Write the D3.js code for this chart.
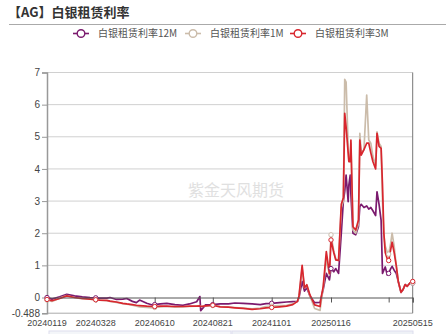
<!DOCTYPE html>
<html>
<head>
<meta charset="utf-8">
<script src="https://cdn.jsdelivr.net/npm/d3@7"></script>
<style>
  body { margin: 0; background: #fff; }
  svg { display: block; font-family: "Noto Sans CJK SC", "Noto Sans", sans-serif; }
</style>
</head>
<body>
<svg id="chart" width="446" height="334"></svg>
<script>
// data
const dates = [
  "20240119","20240126","20240206","20240216","20240227","20240309","20240320","20240328",
  "20240402","20240411","20240415","20240423","20240501","20240506","20240513","20240518",
  "20240522","20240531","20240608","20240610","20240617","20240625","20240705","20240715",
  "20240723","20240801","20240805","20240806","20240812","20240821","20240830","20240909",
  "20240917","20240927","20241008","20241018","20241025","20241101","20241111","20241120",
  "20241128","20241204","20241206","20241210","20241213","20241216","20241220","20241226",
  "20250102","20250103","20250106","20250110","20250114","20250116","20250120","20250123",
  "20250127","20250131","20250203","20250205","20250207","20250210","20250211","20250213",
  "20250214","20250217","20250221","20250225","20250227","20250301","20250305","20250309",
  "20250312","20250315","20250318","20250322","20250324","20250327","20250330","20250401",
  "20250403","20250405","20250408","20250410","20250413","20250415","20250418","20250421",
  "20250424","20250428","20250501","20250504","20250507","20250511","20250515"
];
const rate12M = [
  0.00,-0.05,0.02,0.10,0.05,0.02,0.00,-0.01,
  -0.02,-0.02,0.00,-0.06,-0.05,-0.03,-0.12,-0.16,
  -0.08,-0.18,-0.24,-0.22,-0.20,-0.18,-0.22,-0.24,
  -0.20,-0.13,0.03,-0.41,-0.23,-0.22,-0.20,-0.20,
  -0.17,-0.18,-0.20,-0.22,-0.19,-0.18,-0.16,-0.14,
  -0.13,-0.12,0.00,0.50,0.20,0.30,0.05,-0.16,
  -0.15,-0.05,0.25,0.75,0.55,0.90,0.80,0.90,
  0.75,2.00,3.00,3.30,3.81,2.98,3.50,3.81,
  3.20,2.00,1.95,2.20,2.83,2.90,2.80,2.85,
  2.75,2.80,2.70,2.55,3.29,2.90,2.40,0.75,
  0.85,0.95,0.70,0.75,0.90,0.97,0.85,0.75,
  0.50,0.16,0.25,0.40,0.35,0.45,0.45
];
const rate1M = [
  -0.08,-0.12,-0.02,0.06,0.00,-0.04,-0.05,-0.07,
  -0.08,-0.10,-0.12,-0.15,-0.19,-0.21,-0.24,-0.27,
  -0.29,-0.31,-0.32,-0.31,-0.29,-0.28,-0.30,-0.29,
  -0.28,-0.27,-0.25,-0.28,-0.27,-0.25,-0.28,-0.30,
  -0.31,-0.33,-0.35,-0.33,-0.28,-0.27,-0.25,-0.24,
  -0.20,-0.12,0.02,0.90,0.30,0.38,0.05,-0.34,
  -0.40,-0.20,0.30,1.20,0.70,1.95,1.45,1.20,
  1.15,2.80,3.00,6.79,6.70,4.70,4.23,4.30,
  4.80,2.10,2.00,2.30,5.11,4.50,4.60,6.30,
  4.90,4.80,4.40,4.10,5.15,4.80,4.70,3.00,
  1.95,1.60,1.40,1.35,1.70,2.00,1.60,1.00,
  0.50,0.16,0.25,0.40,0.35,0.45,0.45
];
const rate3M = [
  -0.06,-0.10,-0.03,0.05,0.00,-0.03,-0.05,-0.07,
  -0.08,-0.09,-0.11,-0.14,-0.18,-0.20,-0.22,-0.24,
  -0.25,-0.27,-0.28,-0.28,-0.27,-0.27,-0.28,-0.28,
  -0.27,-0.27,-0.26,-0.28,-0.26,-0.24,-0.29,-0.30,
  -0.32,-0.34,-0.37,-0.35,-0.32,-0.31,-0.29,-0.27,
  -0.22,-0.12,0.05,1.00,0.30,0.40,0.08,-0.23,
  -0.28,-0.05,0.34,1.43,0.74,1.79,1.40,1.17,
  1.15,2.90,3.10,5.73,5.30,4.50,4.23,4.23,
  4.90,2.20,2.10,2.41,4.90,4.43,4.60,4.80,
  4.80,4.50,4.23,4.00,5.11,4.70,4.64,3.50,
  2.00,1.40,1.20,1.15,1.50,1.72,1.40,1.00,
  0.50,0.16,0.25,0.40,0.35,0.45,0.50
];
const seriesNames = ["白银租赁利率12M", "白银租赁利率1M", "白银租赁利率3M"];
const seriesColors = ["#7b1a6e", "#cbbcaa", "#d8262e"];
const labelDates = ["20240119","20240328","20240610","20240821","20241101","20250116","20250515"];
const tickDates = ["20240119","20240328","20240610","20240821","20241101","20250116","20250410","20250515"];
const yTicks = [-0.488, 0, 1, 2, 3, 4, 5, 6, 7];

const svg = d3.select("#chart");
const parse = d3.timeParse("%Y%m%d");

const plotLeft = 47, plotRight = 412.7, plotTop = 72.5, plotBottom = 313.2;

// category-like axis: label dates pinned where the reference draws them
const x = d3.scaleTime()
  .domain(labelDates.map(parse))
  .range([plotLeft, 95.7, 154.7, 212.8, 271.7, 331, plotRight]);
const y = d3.scaleLinear().domain([-0.488, 7]).range([plotBottom, plotTop]);

// title
svg.append("text")
  .attr("x", 8).attr("y", 17)
  .style("font-size", "13px").style("font-weight", "bold").attr("fill", "#333")
  .text("【AG】白银租赁利率");
svg.append("line")
  .attr("x1", 9).attr("x2", 446).attr("y1", 24.5).attr("y2", 24.5)
  .attr("stroke", "#aaa");

// legend
const legendX = [81, 193, 298];
seriesNames.forEach((name, i) => {
  const g = svg.append("g").attr("transform", `translate(${legendX[i]},33.5)`);
  g.append("line").attr("x1", -8).attr("x2", 8).attr("stroke", seriesColors[i]).attr("stroke-width", 1.6);
  g.append("circle").attr("r", 3.8).attr("fill", "#fff").attr("stroke", seriesColors[i]).attr("stroke-width", 1.4);
  g.append("text").attr("x", 17).attr("dy", "0.35em")
    .style("font-size", "10px").attr("fill", "#555").text(name);
});

// watermark
svg.append("text")
  .attr("x", 236).attr("y", 190).attr("text-anchor", "middle").attr("dy", "0.35em")
  .style("font-size", "16px").attr("fill", "#d4d4d4").attr("opacity", 0.7)
  .text("紫金天风期货");

// grid
svg.append("g").selectAll("line")
  .data(yTicks.filter(d => d > 0))
  .join("line")
  .attr("x1", plotLeft).attr("x2", plotRight)
  .attr("y1", d => y(d)).attr("y2", d => y(d))
  .attr("stroke", "#d0d0d0");
svg.append("line")
  .attr("x1", plotLeft).attr("x2", plotRight).attr("y1", y(-0.488)).attr("y2", y(-0.488))
  .attr("stroke", "#aaa");
svg.append("line")
  .attr("x1", plotRight).attr("x2", plotRight).attr("y1", plotTop).attr("y2", plotBottom)
  .attr("stroke", "#777");

// y axis
const axisY = d3.axisLeft(y).tickValues(yTicks).tickSize(5).tickPadding(2)
  .tickFormat(d => d === -0.488 ? "-0.488" : d3.format("d")(d));
const gy = svg.append("g").attr("transform", `translate(${plotLeft},0)`).call(axisY);
gy.select(".domain").attr("stroke", "#999").attr("stroke-width", 1.5);
gy.selectAll(".tick line").attr("stroke", "#999");
gy.selectAll(".tick text").attr("fill", "#444").style("font-size", "10px")
  .style("font-family", "'Liberation Sans', Arial, sans-serif");

// series lines
const series = [rate12M, rate1M, rate3M].map(vals =>
  vals.map((v, i) => ({ date: parse(dates[i]), v: v })));

const lineF = d3.line().x(d => x(d.date)).y(d => y(d.v));
series.forEach((s, i) => {
  svg.append("path")
    .datum(s)
    .attr("d", lineF)
    .attr("fill", "none")
    .attr("stroke", seriesColors[i])
    .attr("stroke-width", 1.7)
    .attr("stroke-linejoin", "round");
});

// x axis on the zero line
const axisX = d3.axisBottom(x).tickValues(tickDates.map(parse)).tickSize(5).tickFormat("");
const gx = svg.append("g").attr("transform", `translate(0,${y(0)})`).call(axisX);
gx.select(".domain").attr("stroke", "#555");
gx.selectAll(".tick line").attr("stroke", "#555");

svg.append("g").selectAll("text")
  .data(labelDates)
  .join("text")
  .attr("x", d => x(parse(d))).attr("y", 326)
  .attr("text-anchor", "middle")
  .style("font-size", "9px").style("font-family", "'Liberation Sans', Arial, sans-serif")
  .attr("fill", "#444")
  .text(d => d);

// symbols shown at tick dates
series.forEach((s, i) => {
  svg.append("g").selectAll("circle")
    .data(s.filter(d => tickDates.includes(d3.timeFormat("%Y%m%d")(d.date))))
    .join("circle")
    .attr("cx", d => x(d.date)).attr("cy", d => y(d.v)).attr("r", 2.2)
    .attr("fill", "#fff").attr("stroke", seriesColors[i]).attr("stroke-width", 1);
});

// slider remnant at the bottom edge
svg.append("rect").attr("x", 49).attr("y", 331).attr("width", 182).attr("height", 8)
  .attr("fill", "#f4f6f9").attr("stroke", "#dde");
svg.append("rect").attr("x", 232).attr("y", 331).attr("width", 181).attr("height", 8)
  .attr("fill", "#eef1f6").attr("stroke", "#dde");
</script>
</body>
</html>
